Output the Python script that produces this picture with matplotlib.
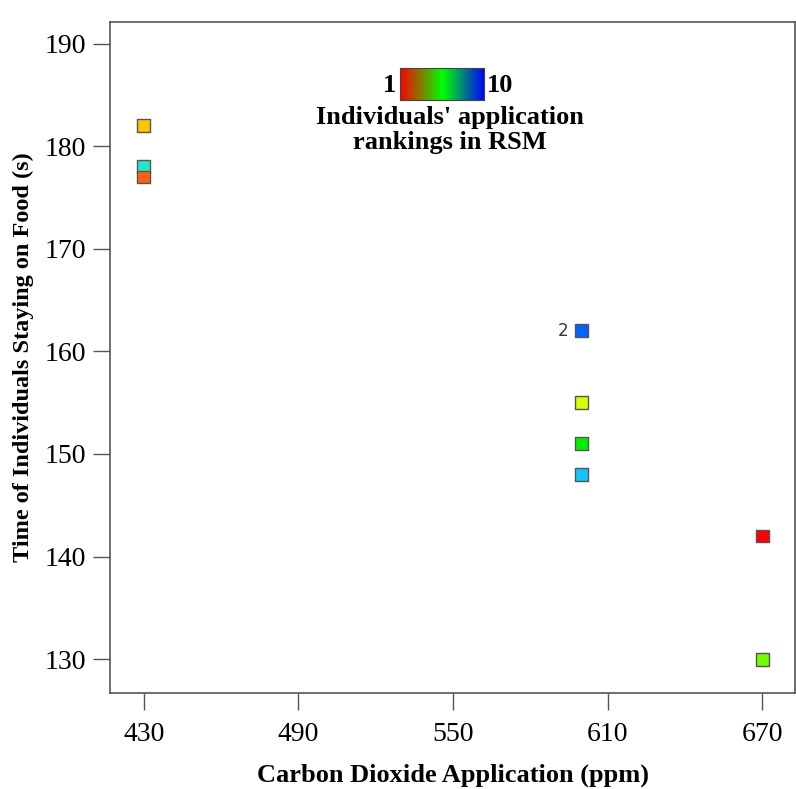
import matplotlib
matplotlib.use("Agg")
import matplotlib.pyplot as plt
from matplotlib.colors import LinearSegmentedColormap
import numpy as np

plt.rcParams['font.family'] = ['Liberation Serif', 'DejaVu Serif']

# data
co2 = [430, 430, 430, 600, 600, 600, 600, 670, 670]
stay_time = [182, 178, 177, 162, 155, 151, 148, 142, 130]
colors = ["#FFC400", "#22E8C8", "#FF6010", "#0062FF", "#D4FF00",
          "#00F000", "#12C4FF", "#FF0000", "#72FF00"]
labels = ["", "", "", "2", "", "", "", "", ""]
xticks = [430, 490, 550, 610, 670]
yticks = [130, 140, 150, 160, 170, 180, 190]

fig = plt.figure(figsize=(7.96, 7.89), dpi=100)
ax = fig.add_axes([0.138, 0.1217, 0.861, 0.8503])

ax.scatter(co2, stay_time, marker="s", s=85, c=colors,
           edgecolors="#555555", linewidths=1.0, zorder=3)
for x, y, lab in zip(co2, stay_time, labels):
    if lab:
        ax.annotate(lab, (x, y), xytext=(-10, 0), textcoords="offset points",
                    ha="right", va="center", fontsize=12,
                    family="DejaVu Sans", color="#333333")

ax.set_xlim(416.8, 682.8)
ax.set_ylim(126.7, 192.1)
ax.set_xticks(xticks)
ax.set_yticks(yticks)
ax.tick_params(axis="both", labelsize=20, length=12, width=1.0,
               color="#555555", pad=5)
ax.tick_params(axis="x", pad=9)
for s in ax.spines.values():
    s.set_color("#555555")
    s.set_linewidth(1.2)

ax.set_xlabel("Carbon Dioxide Application (ppm)", fontsize=19,
              fontweight="bold", labelpad=12)
ax.set_ylabel("Time of Individuals Staying on Food (s)", fontsize=17.5,
              fontweight="bold", labelpad=8)

# colour legend (rankings 1..10)
cmap = LinearSegmentedColormap.from_list("rank", ["#FF0000", "#00FF00", "#0000FF"])
cax = fig.add_axes([400 / 796, 1 - 100 / 789, 84 / 796, 32 / 789])
cax.imshow(np.linspace(0, 1, 200)[None, :], cmap=cmap, aspect="auto")
cax.set_xticks([])
cax.set_yticks([])
for s in cax.spines.values():
    s.set_color("#444444")
fig.text(396 / 796, 1 - 86 / 789, "1", ha="right", va="center",
         fontsize=19, fontweight="bold")
fig.text(487 / 796, 1 - 86 / 789, "10", ha="left", va="center",
         fontsize=19, fontweight="bold")
fig.text(450 / 796, 1 - 130 / 789, "Individuals' application\nrankings in RSM",
         ha="center", va="center", fontsize=19, fontweight="bold",
         linespacing=1.15)

fig.savefig("out.png", dpi=100)
